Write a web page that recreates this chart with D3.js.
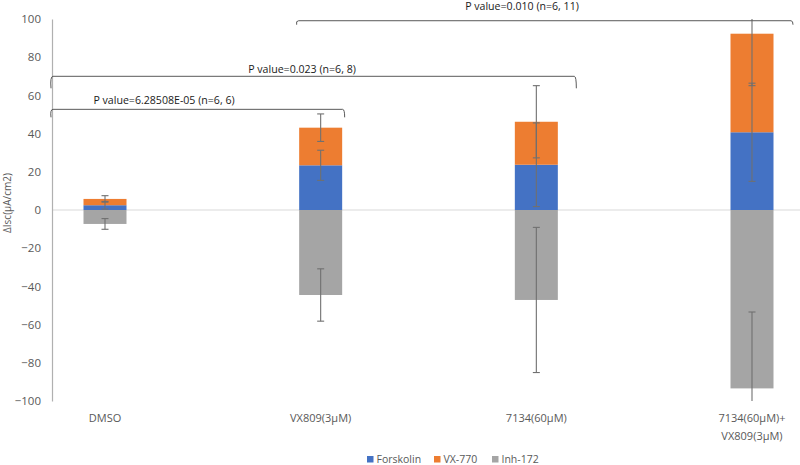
<!DOCTYPE html>
<html><head><meta charset="utf-8">
<script src="https://cdn.jsdelivr.net/npm/d3@7"></script>
<style>body{margin:0;background:#fff;}svg{display:block;font-family:"Open Sans",sans-serif;}</style>
</head><body><svg id="c" width="800" height="465"></svg>
<script>
const categories = ["DMSO", "VX809(3μM)", "7134(60μM)", "7134(60μM)+\nVX809(3μM)"];
const seriesNames = ["Forskolin", "VX-770", "Inh-172"];
const forskolin = [2.5, 23.4, 23.7, 40.7];
const vx770 = [3.3, 19.7, 22.5, 51.6];
const inh172 = [-7.3, -44.5, -47.1, -93.4];
const forskolinErr = [2.0, 7.9, 21.9, 25.7];
const vx770Err = [1.7, 7.2, 18.9, 27.2];
const inh172Err = [2.8, 13.7, 38.0, 40.0];
const yTicks = [-100, -80, -60, -40, -20, 0, 20, 40, 60, 80, 100];
const pLabels = ["P value=6.28508E-05 (n=6, 6)", "P value=0.023 (n=6, 8)", "P value=0.010 (n=6, 11)"];
const colors = ["#4472C4", "#ED7D31", "#A5A5A5"];

const svg = d3.select("#c");
const y = d3.scaleLinear().domain([-100, 100]).range([401, 19]);
const x = d3.scalePoint().domain(categories).range([105, 752]);
const barW = 43;
const axisX = 52;

// zero line
svg.append("line").attr("x1", axisX).attr("x2", 800).attr("y1", y(0)).attr("y2", y(0))
  .attr("stroke", "#d9d9d9").attr("stroke-width", 1);

// y axis
const yAxis = d3.axisLeft(y).tickValues(yTicks).tickSize(0).tickPadding(11);
const ga = svg.append("g").attr("transform", `translate(${axisX},0)`).call(yAxis);
ga.select(".domain").attr("stroke", "#b0b0b0").attr("stroke-width", 1.2);
ga.selectAll("text").attr("fill", "#595959").style("font-size", "11.5px").style("font-family", "Open Sans");

// y title
svg.append("text").attr("transform", `translate(11,203) rotate(-90)`).attr("text-anchor", "middle")
  .attr("fill", "#595959").style("font-size", "10px").text("ΔIsc(μA/cm2)");

// bars
const segs = [];
categories.forEach((c, i) => {
  segs.push({c, s: 0, y0: 0, y1: forskolin[i], err: forskolinErr[i]});
  segs.push({c, s: 1, y0: forskolin[i], y1: forskolin[i] + vx770[i], err: vx770Err[i]});
  segs.push({c, s: 2, y0: 0, y1: inh172[i], err: inh172Err[i]});
});
svg.append("g").selectAll("rect").data(segs).join("rect")
  .attr("x", d => x(d.c) - barW / 2).attr("width", barW)
  .attr("y", d => y(Math.max(d.y0, d.y1))).attr("height", d => Math.abs(y(d.y0) - y(d.y1)))
  .attr("fill", d => colors[d.s]);

// error bars
const clamp = v => Math.max(-100, Math.min(100, v));
const eg = svg.append("g").attr("stroke", "#707070").attr("stroke-width", 1.1);
segs.forEach(d => {
  const cx = x(d.c);
  const lo = d.y1 - d.err, hi = d.y1 + d.err;
  eg.append("line").attr("x1", cx).attr("x2", cx).attr("y1", y(clamp(lo))).attr("y2", y(clamp(hi)));
  [lo, hi].forEach(v => {
    if (v >= -100 && v <= 100)
      eg.append("line").attr("x1", cx - 3.5).attr("x2", cx + 3.5).attr("y1", y(v)).attr("y2", y(v));
  });
});

// significance brackets
const br = [
  {x1: axisX - 1, x2: x(categories[1]) + 24, yv: 52.7, hook: 8, tx: 164, ty: 100},
  {x1: axisX - 1, x2: x(categories[2]) + 40, yv: 70, hook: 12, tx: 302, ty: 69},
  {x1: x(categories[1]) - 24, x2: x(categories[3]) + 41, yv: 99.1, hook: 4, tx: 522, ty: 6}
];
const bg = svg.append("g");
br.forEach((b, i) => {
  const yy = y(b.yv);
  bg.append("path")
    .attr("d", `M${b.x1},${yy + b.hook} Q${b.x1 - 1},${yy} ${b.x1 + 2},${yy} L${b.x2 - 2},${yy} Q${b.x2},${yy} ${b.x2},${yy + b.hook}`)
    .attr("fill", "none").attr("stroke", "#595959").attr("stroke-width", 1);
  bg.append("text").attr("x", b.tx).attr("y", b.ty).attr("dy", "0.35em").attr("text-anchor", "middle")
    .attr("fill", "#1a1a1a").style("font-size", "10.6px").text(pLabels[i]);
});

// x labels
const xl = svg.append("g");
categories.forEach(c => {
  const lines = c.split("\n");
  const t = xl.append("text").attr("text-anchor", "middle").attr("fill", "#595959").style("font-size", "11px");
  lines.forEach((ln, j) => {
    t.append("tspan").attr("x", x(c)).attr("y", 418 + j * 18).attr("dy", "0.35em").text(ln);
  });
});

// legend
const legX = [367, 434, 492];
const lg = svg.append("g");
seriesNames.forEach((n, i) => {
  lg.append("rect").attr("x", legX[i]).attr("y", 456).attr("width", 6.5).attr("height", 6.5).attr("fill", colors[i]);
  lg.append("text").attr("x", legX[i] + 9.5).attr("y", 459.5).attr("dy", "0.35em")
    .attr("fill", "#595959").style("font-size", "10.5px").text(n);
});
</script></body></html>
